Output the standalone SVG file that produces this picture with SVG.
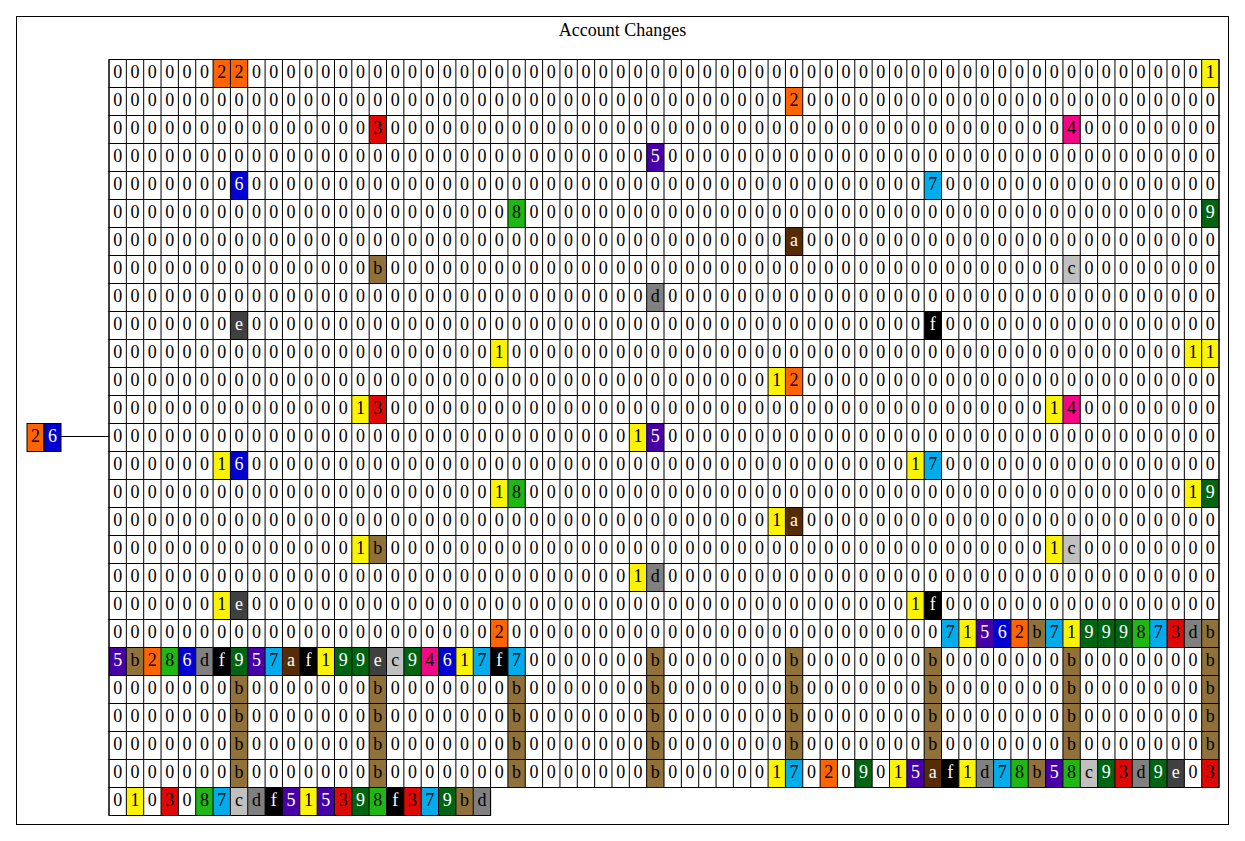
<svg xmlns="http://www.w3.org/2000/svg" width="1245" height="841" viewBox="0 0 1245 841">
<style>
text{font-family:"Liberation Serif","Times New Roman",serif;font-size:18px;fill:#000}
.t{text-anchor:middle}
.w{fill:#fff}
.bg{fill:#fff}
.bd{fill:none;stroke:#000;stroke-width:1}
.dv{stroke:#000;stroke-width:28;stroke-dasharray:1 16.344}
.frame{fill:#fff;stroke:#000;stroke-width:1}
.edge{stroke:#000;stroke-width:1;fill:none}
.k1{fill:#FBF305}.k2{fill:#FF6403}.k3{fill:#DD0907}.k4{fill:#F20884}.k5{fill:#4700A5}.k6{fill:#0000D3}.k7{fill:#02ABEA}.k8{fill:#1FB714}.k9{fill:#006412}.ka{fill:#562C05}.kb{fill:#90713A}.kc{fill:#C0C0C0}.kd{fill:#808080}.ke{fill:#404040}.kf{fill:#000}
</style>
<rect class="frame" x="16.5" y="16.5" width="1212" height="808"/>
<text class="t" x="622.5" y="36">Account Changes</text>

<g id="row-01">
<rect class="bg" x="109" y="59.5" width="1110" height="28"/>
<rect class="k2" x="213.06" y="59.5" width="17.34" height="28"/><rect class="k2" x="230.41" y="59.5" width="17.34" height="28"/><rect class="k1" x="1201.67" y="59.5" width="17.34" height="28"/>
<line class="dv" x1="108.5" y1="73.5" x2="1219.5" y2="73.5"/>
<rect class="bd" x="109" y="59.5" width="1110" height="28"/>
<text class="t" y="78" x="117.67 135.02 152.36 169.7 187.05 204.39 221.74 239.08 256.42 273.77 291.11 308.46 325.8 343.14 360.49 377.83 395.18 412.52 429.86 447.21 464.55 481.9 499.24 516.58 533.93 551.27 568.62 585.96 603.3 620.65 637.99 655.34 672.68 690.02 707.37 724.71 742.06 759.4 776.74 794.09 811.43 828.78 846.12 863.46 880.81 898.15 915.5 932.84 950.18 967.53 984.87 1002.22 1019.56 1036.9 1054.25 1071.59 1088.94 1106.28 1123.62 1140.97 1158.31 1175.66 1193 1210.34">0000002200000000000000000000000000000000000000000000000000000001</text>
</g>

<g id="row-02">
<rect class="bg" x="109" y="87.5" width="1110" height="28"/>
<rect class="k2" x="785.42" y="87.5" width="17.34" height="28"/>
<line class="dv" x1="108.5" y1="101.5" x2="1219.5" y2="101.5"/>
<rect class="bd" x="109" y="87.5" width="1110" height="28"/>
<text class="t" y="106" x="117.67 135.02 152.36 169.7 187.05 204.39 221.74 239.08 256.42 273.77 291.11 308.46 325.8 343.14 360.49 377.83 395.18 412.52 429.86 447.21 464.55 481.9 499.24 516.58 533.93 551.27 568.62 585.96 603.3 620.65 637.99 655.34 672.68 690.02 707.37 724.71 742.06 759.4 776.74 794.09 811.43 828.78 846.12 863.46 880.81 898.15 915.5 932.84 950.18 967.53 984.87 1002.22 1019.56 1036.9 1054.25 1071.59 1088.94 1106.28 1123.62 1140.97 1158.31 1175.66 1193 1210.34">0000000000000000000000000000000000000002000000000000000000000000</text>
</g>

<g id="row-03">
<rect class="bg" x="109" y="115.5" width="1110" height="28"/>
<rect class="k3" x="369.16" y="115.5" width="17.34" height="28"/><rect class="k4" x="1062.92" y="115.5" width="17.34" height="28"/>
<line class="dv" x1="108.5" y1="129.5" x2="1219.5" y2="129.5"/>
<rect class="bd" x="109" y="115.5" width="1110" height="28"/>
<text class="t" y="134" x="117.67 135.02 152.36 169.7 187.05 204.39 221.74 239.08 256.42 273.77 291.11 308.46 325.8 343.14 360.49 377.83 395.18 412.52 429.86 447.21 464.55 481.9 499.24 516.58 533.93 551.27 568.62 585.96 603.3 620.65 637.99 655.34 672.68 690.02 707.37 724.71 742.06 759.4 776.74 794.09 811.43 828.78 846.12 863.46 880.81 898.15 915.5 932.84 950.18 967.53 984.87 1002.22 1019.56 1036.9 1054.25 1071.59 1088.94 1106.28 1123.62 1140.97 1158.31 1175.66 1193 1210.34">0000000000000003000000000000000000000000000000000000000400000000</text>
</g>

<g id="row-04">
<rect class="bg" x="109" y="143.5" width="1110" height="28"/>
<rect class="k5" x="646.66" y="143.5" width="17.34" height="28"/>
<line class="dv" x1="108.5" y1="157.5" x2="1219.5" y2="157.5"/>
<rect class="bd" x="109" y="143.5" width="1110" height="28"/>
<text class="t" y="162" x="117.67 135.02 152.36 169.7 187.05 204.39 221.74 239.08 256.42 273.77 291.11 308.46 325.8 343.14 360.49 377.83 395.18 412.52 429.86 447.21 464.55 481.9 499.24 516.58 533.93 551.27 568.62 585.96 603.3 620.65 637.99 655.34 672.68 690.02 707.37 724.71 742.06 759.4 776.74 794.09 811.43 828.78 846.12 863.46 880.81 898.15 915.5 932.84 950.18 967.53 984.87 1002.22 1019.56 1036.9 1054.25 1071.59 1088.94 1106.28 1123.62 1140.97 1158.31 1175.66 1193 1210.34">0000000000000000000000000000000<tspan class="w">5</tspan>00000000000000000000000000000000</text>
</g>

<g id="row-05">
<rect class="bg" x="109" y="171.5" width="1110" height="28"/>
<rect class="k6" x="230.41" y="171.5" width="17.34" height="28"/><rect class="k7" x="924.17" y="171.5" width="17.34" height="28"/>
<line class="dv" x1="108.5" y1="185.5" x2="1219.5" y2="185.5"/>
<rect class="bd" x="109" y="171.5" width="1110" height="28"/>
<text class="t" y="190" x="117.67 135.02 152.36 169.7 187.05 204.39 221.74 239.08 256.42 273.77 291.11 308.46 325.8 343.14 360.49 377.83 395.18 412.52 429.86 447.21 464.55 481.9 499.24 516.58 533.93 551.27 568.62 585.96 603.3 620.65 637.99 655.34 672.68 690.02 707.37 724.71 742.06 759.4 776.74 794.09 811.43 828.78 846.12 863.46 880.81 898.15 915.5 932.84 950.18 967.53 984.87 1002.22 1019.56 1036.9 1054.25 1071.59 1088.94 1106.28 1123.62 1140.97 1158.31 1175.66 1193 1210.34">0000000<tspan class="w">6</tspan><!---->00000000<!---->00000000<!---->00000000<!---->00000000<!---->00000007<!---->00000000<!---->00000000</text>
</g>

<g id="row-06">
<rect class="bg" x="109" y="199.5" width="1110" height="28"/>
<rect class="k8" x="507.91" y="199.5" width="17.34" height="28"/><rect class="k9" x="1201.67" y="199.5" width="17.34" height="28"/>
<line class="dv" x1="108.5" y1="213.5" x2="1219.5" y2="213.5"/>
<rect class="bd" x="109" y="199.5" width="1110" height="28"/>
<text class="t" y="218" x="117.67 135.02 152.36 169.7 187.05 204.39 221.74 239.08 256.42 273.77 291.11 308.46 325.8 343.14 360.49 377.83 395.18 412.52 429.86 447.21 464.55 481.9 499.24 516.58 533.93 551.27 568.62 585.96 603.3 620.65 637.99 655.34 672.68 690.02 707.37 724.71 742.06 759.4 776.74 794.09 811.43 828.78 846.12 863.46 880.81 898.15 915.5 932.84 950.18 967.53 984.87 1002.22 1019.56 1036.9 1054.25 1071.59 1088.94 1106.28 1123.62 1140.97 1158.31 1175.66 1193 1210.34">00000000<!---->00000000<!---->00000008<!---->00000000<!---->00000000<!---->00000000<!---->00000000<!---->0000000<tspan class="w">9</tspan></text>
</g>

<g id="row-07">
<rect class="bg" x="109" y="227.5" width="1110" height="28"/>
<rect class="ka" x="785.42" y="227.5" width="17.34" height="28"/>
<line class="dv" x1="108.5" y1="241.5" x2="1219.5" y2="241.5"/>
<rect class="bd" x="109" y="227.5" width="1110" height="28"/>
<text class="t" y="246" x="117.67 135.02 152.36 169.7 187.05 204.39 221.74 239.08 256.42 273.77 291.11 308.46 325.8 343.14 360.49 377.83 395.18 412.52 429.86 447.21 464.55 481.9 499.24 516.58 533.93 551.27 568.62 585.96 603.3 620.65 637.99 655.34 672.68 690.02 707.37 724.71 742.06 759.4 776.74 794.09 811.43 828.78 846.12 863.46 880.81 898.15 915.5 932.84 950.18 967.53 984.87 1002.22 1019.56 1036.9 1054.25 1071.59 1088.94 1106.28 1123.62 1140.97 1158.31 1175.66 1193 1210.34">000000000000000000000000000000000000000<tspan class="w">a</tspan>000000000000000000000000</text>
</g>

<g id="row-08">
<rect class="bg" x="109" y="255.5" width="1110" height="28"/>
<rect class="kb" x="369.16" y="255.5" width="17.34" height="28"/><rect class="kc" x="1062.92" y="255.5" width="17.34" height="28"/>
<line class="dv" x1="108.5" y1="269.5" x2="1219.5" y2="269.5"/>
<rect class="bd" x="109" y="255.5" width="1110" height="28"/>
<text class="t" y="274" x="117.67 135.02 152.36 169.7 187.05 204.39 221.74 239.08 256.42 273.77 291.11 308.46 325.8 343.14 360.49 377.83 395.18 412.52 429.86 447.21 464.55 481.9 499.24 516.58 533.93 551.27 568.62 585.96 603.3 620.65 637.99 655.34 672.68 690.02 707.37 724.71 742.06 759.4 776.74 794.09 811.43 828.78 846.12 863.46 880.81 898.15 915.5 932.84 950.18 967.53 984.87 1002.22 1019.56 1036.9 1054.25 1071.59 1088.94 1106.28 1123.62 1140.97 1158.31 1175.66 1193 1210.34">000000000000000b000000000000000000000000000000000000000c00000000</text>
</g>

<g id="row-09">
<rect class="bg" x="109" y="283.5" width="1110" height="28"/>
<rect class="kd" x="646.66" y="283.5" width="17.34" height="28"/>
<line class="dv" x1="108.5" y1="297.5" x2="1219.5" y2="297.5"/>
<rect class="bd" x="109" y="283.5" width="1110" height="28"/>
<text class="t" y="302" x="117.67 135.02 152.36 169.7 187.05 204.39 221.74 239.08 256.42 273.77 291.11 308.46 325.8 343.14 360.49 377.83 395.18 412.52 429.86 447.21 464.55 481.9 499.24 516.58 533.93 551.27 568.62 585.96 603.3 620.65 637.99 655.34 672.68 690.02 707.37 724.71 742.06 759.4 776.74 794.09 811.43 828.78 846.12 863.46 880.81 898.15 915.5 932.84 950.18 967.53 984.87 1002.22 1019.56 1036.9 1054.25 1071.59 1088.94 1106.28 1123.62 1140.97 1158.31 1175.66 1193 1210.34">0000000000000000000000000000000d00000000000000000000000000000000</text>
</g>

<g id="row-10">
<rect class="bg" x="109" y="311.5" width="1110" height="28"/>
<rect class="ke" x="230.41" y="311.5" width="17.34" height="28"/><rect class="kf" x="924.17" y="311.5" width="17.34" height="28"/>
<line class="dv" x1="108.5" y1="325.5" x2="1219.5" y2="325.5"/>
<rect class="bd" x="109" y="311.5" width="1110" height="28"/>
<text class="t" y="330" x="117.67 135.02 152.36 169.7 187.05 204.39 221.74 239.08 256.42 273.77 291.11 308.46 325.8 343.14 360.49 377.83 395.18 412.52 429.86 447.21 464.55 481.9 499.24 516.58 533.93 551.27 568.62 585.96 603.3 620.65 637.99 655.34 672.68 690.02 707.37 724.71 742.06 759.4 776.74 794.09 811.43 828.78 846.12 863.46 880.81 898.15 915.5 932.84 950.18 967.53 984.87 1002.22 1019.56 1036.9 1054.25 1071.59 1088.94 1106.28 1123.62 1140.97 1158.31 1175.66 1193 1210.34">0000000<tspan class="w">e</tspan>000000000000000000000000000000000000000<tspan class="w">f</tspan>0000000000000000</text>
</g>

<g id="row-11">
<rect class="bg" x="109" y="339.5" width="1110" height="28"/>
<rect class="k1" x="490.57" y="339.5" width="17.34" height="28"/><rect class="k1" x="1184.33" y="339.5" width="17.34" height="28"/><rect class="k1" x="1201.67" y="339.5" width="17.34" height="28"/>
<line class="dv" x1="108.5" y1="353.5" x2="1219.5" y2="353.5"/>
<rect class="bd" x="109" y="339.5" width="1110" height="28"/>
<text class="t" y="358" x="117.67 135.02 152.36 169.7 187.05 204.39 221.74 239.08 256.42 273.77 291.11 308.46 325.8 343.14 360.49 377.83 395.18 412.52 429.86 447.21 464.55 481.9 499.24 516.58 533.93 551.27 568.62 585.96 603.3 620.65 637.99 655.34 672.68 690.02 707.37 724.71 742.06 759.4 776.74 794.09 811.43 828.78 846.12 863.46 880.81 898.15 915.5 932.84 950.18 967.53 984.87 1002.22 1019.56 1036.9 1054.25 1071.59 1088.94 1106.28 1123.62 1140.97 1158.31 1175.66 1193 1210.34">0000000000000000000000100000000000000000000000000000000000000011</text>
</g>

<g id="row-12">
<rect class="bg" x="109" y="367.5" width="1110" height="28"/>
<rect class="k1" x="768.07" y="367.5" width="17.34" height="28"/><rect class="k2" x="785.42" y="367.5" width="17.34" height="28"/>
<line class="dv" x1="108.5" y1="381.5" x2="1219.5" y2="381.5"/>
<rect class="bd" x="109" y="367.5" width="1110" height="28"/>
<text class="t" y="386" x="117.67 135.02 152.36 169.7 187.05 204.39 221.74 239.08 256.42 273.77 291.11 308.46 325.8 343.14 360.49 377.83 395.18 412.52 429.86 447.21 464.55 481.9 499.24 516.58 533.93 551.27 568.62 585.96 603.3 620.65 637.99 655.34 672.68 690.02 707.37 724.71 742.06 759.4 776.74 794.09 811.43 828.78 846.12 863.46 880.81 898.15 915.5 932.84 950.18 967.53 984.87 1002.22 1019.56 1036.9 1054.25 1071.59 1088.94 1106.28 1123.62 1140.97 1158.31 1175.66 1193 1210.34">0000000000000000000000000000000000000012000000000000000000000000</text>
</g>

<g id="row-13">
<rect class="bg" x="109" y="395.5" width="1110" height="28"/>
<rect class="k1" x="351.82" y="395.5" width="17.34" height="28"/><rect class="k3" x="369.16" y="395.5" width="17.34" height="28"/><rect class="k1" x="1045.58" y="395.5" width="17.34" height="28"/><rect class="k4" x="1062.92" y="395.5" width="17.34" height="28"/>
<line class="dv" x1="108.5" y1="409.5" x2="1219.5" y2="409.5"/>
<rect class="bd" x="109" y="395.5" width="1110" height="28"/>
<text class="t" y="414" x="117.67 135.02 152.36 169.7 187.05 204.39 221.74 239.08 256.42 273.77 291.11 308.46 325.8 343.14 360.49 377.83 395.18 412.52 429.86 447.21 464.55 481.9 499.24 516.58 533.93 551.27 568.62 585.96 603.3 620.65 637.99 655.34 672.68 690.02 707.37 724.71 742.06 759.4 776.74 794.09 811.43 828.78 846.12 863.46 880.81 898.15 915.5 932.84 950.18 967.53 984.87 1002.22 1019.56 1036.9 1054.25 1071.59 1088.94 1106.28 1123.62 1140.97 1158.31 1175.66 1193 1210.34">0000000000000013000000000000000000000000000000000000001400000000</text>
</g>

<g id="row-14">
<rect class="bg" x="109" y="423.5" width="1110" height="28"/>
<rect class="k1" x="629.32" y="423.5" width="17.34" height="28"/><rect class="k5" x="646.66" y="423.5" width="17.34" height="28"/>
<line class="dv" x1="108.5" y1="437.5" x2="1219.5" y2="437.5"/>
<rect class="bd" x="109" y="423.5" width="1110" height="28"/>
<text class="t" y="442" x="117.67 135.02 152.36 169.7 187.05 204.39 221.74 239.08 256.42 273.77 291.11 308.46 325.8 343.14 360.49 377.83 395.18 412.52 429.86 447.21 464.55 481.9 499.24 516.58 533.93 551.27 568.62 585.96 603.3 620.65 637.99 655.34 672.68 690.02 707.37 724.71 742.06 759.4 776.74 794.09 811.43 828.78 846.12 863.46 880.81 898.15 915.5 932.84 950.18 967.53 984.87 1002.22 1019.56 1036.9 1054.25 1071.59 1088.94 1106.28 1123.62 1140.97 1158.31 1175.66 1193 1210.34">0000000000000000000000000000001<tspan class="w">5</tspan>00000000000000000000000000000000</text>
</g>

<g id="row-15">
<rect class="bg" x="109" y="451.5" width="1110" height="28"/>
<rect class="k1" x="213.06" y="451.5" width="17.34" height="28"/><rect class="k6" x="230.41" y="451.5" width="17.34" height="28"/><rect class="k1" x="906.82" y="451.5" width="17.34" height="28"/><rect class="k7" x="924.17" y="451.5" width="17.34" height="28"/>
<line class="dv" x1="108.5" y1="465.5" x2="1219.5" y2="465.5"/>
<rect class="bd" x="109" y="451.5" width="1110" height="28"/>
<text class="t" y="470" x="117.67 135.02 152.36 169.7 187.05 204.39 221.74 239.08 256.42 273.77 291.11 308.46 325.8 343.14 360.49 377.83 395.18 412.52 429.86 447.21 464.55 481.9 499.24 516.58 533.93 551.27 568.62 585.96 603.3 620.65 637.99 655.34 672.68 690.02 707.37 724.71 742.06 759.4 776.74 794.09 811.43 828.78 846.12 863.46 880.81 898.15 915.5 932.84 950.18 967.53 984.87 1002.22 1019.56 1036.9 1054.25 1071.59 1088.94 1106.28 1123.62 1140.97 1158.31 1175.66 1193 1210.34">0000001<tspan class="w">6</tspan><!---->00000000<!---->00000000<!---->00000000<!---->00000000<!---->00000017<!---->00000000<!---->00000000</text>
</g>

<g id="row-16">
<rect class="bg" x="109" y="479.5" width="1110" height="28"/>
<rect class="k1" x="490.57" y="479.5" width="17.34" height="28"/><rect class="k8" x="507.91" y="479.5" width="17.34" height="28"/><rect class="k1" x="1184.33" y="479.5" width="17.34" height="28"/><rect class="k9" x="1201.67" y="479.5" width="17.34" height="28"/>
<line class="dv" x1="108.5" y1="493.5" x2="1219.5" y2="493.5"/>
<rect class="bd" x="109" y="479.5" width="1110" height="28"/>
<text class="t" y="498" x="117.67 135.02 152.36 169.7 187.05 204.39 221.74 239.08 256.42 273.77 291.11 308.46 325.8 343.14 360.49 377.83 395.18 412.52 429.86 447.21 464.55 481.9 499.24 516.58 533.93 551.27 568.62 585.96 603.3 620.65 637.99 655.34 672.68 690.02 707.37 724.71 742.06 759.4 776.74 794.09 811.43 828.78 846.12 863.46 880.81 898.15 915.5 932.84 950.18 967.53 984.87 1002.22 1019.56 1036.9 1054.25 1071.59 1088.94 1106.28 1123.62 1140.97 1158.31 1175.66 1193 1210.34">000000000000000000000018000000000000000000000000000000000000001<tspan class="w">9</tspan></text>
</g>

<g id="row-17">
<rect class="bg" x="109" y="507.5" width="1110" height="28"/>
<rect class="k1" x="768.07" y="507.5" width="17.34" height="28"/><rect class="ka" x="785.42" y="507.5" width="17.34" height="28"/>
<line class="dv" x1="108.5" y1="521.5" x2="1219.5" y2="521.5"/>
<rect class="bd" x="109" y="507.5" width="1110" height="28"/>
<text class="t" y="526" x="117.67 135.02 152.36 169.7 187.05 204.39 221.74 239.08 256.42 273.77 291.11 308.46 325.8 343.14 360.49 377.83 395.18 412.52 429.86 447.21 464.55 481.9 499.24 516.58 533.93 551.27 568.62 585.96 603.3 620.65 637.99 655.34 672.68 690.02 707.37 724.71 742.06 759.4 776.74 794.09 811.43 828.78 846.12 863.46 880.81 898.15 915.5 932.84 950.18 967.53 984.87 1002.22 1019.56 1036.9 1054.25 1071.59 1088.94 1106.28 1123.62 1140.97 1158.31 1175.66 1193 1210.34">000000000000000000000000000000000000001<tspan class="w">a</tspan>000000000000000000000000</text>
</g>

<g id="row-18">
<rect class="bg" x="109" y="535.5" width="1110" height="28"/>
<rect class="k1" x="351.82" y="535.5" width="17.34" height="28"/><rect class="kb" x="369.16" y="535.5" width="17.34" height="28"/><rect class="k1" x="1045.58" y="535.5" width="17.34" height="28"/><rect class="kc" x="1062.92" y="535.5" width="17.34" height="28"/>
<line class="dv" x1="108.5" y1="549.5" x2="1219.5" y2="549.5"/>
<rect class="bd" x="109" y="535.5" width="1110" height="28"/>
<text class="t" y="554" x="117.67 135.02 152.36 169.7 187.05 204.39 221.74 239.08 256.42 273.77 291.11 308.46 325.8 343.14 360.49 377.83 395.18 412.52 429.86 447.21 464.55 481.9 499.24 516.58 533.93 551.27 568.62 585.96 603.3 620.65 637.99 655.34 672.68 690.02 707.37 724.71 742.06 759.4 776.74 794.09 811.43 828.78 846.12 863.46 880.81 898.15 915.5 932.84 950.18 967.53 984.87 1002.22 1019.56 1036.9 1054.25 1071.59 1088.94 1106.28 1123.62 1140.97 1158.31 1175.66 1193 1210.34">000000000000001b000000000000000000000000000000000000001c00000000</text>
</g>

<g id="row-19">
<rect class="bg" x="109" y="563.5" width="1110" height="28"/>
<rect class="k1" x="629.32" y="563.5" width="17.34" height="28"/><rect class="kd" x="646.66" y="563.5" width="17.34" height="28"/>
<line class="dv" x1="108.5" y1="577.5" x2="1219.5" y2="577.5"/>
<rect class="bd" x="109" y="563.5" width="1110" height="28"/>
<text class="t" y="582" x="117.67 135.02 152.36 169.7 187.05 204.39 221.74 239.08 256.42 273.77 291.11 308.46 325.8 343.14 360.49 377.83 395.18 412.52 429.86 447.21 464.55 481.9 499.24 516.58 533.93 551.27 568.62 585.96 603.3 620.65 637.99 655.34 672.68 690.02 707.37 724.71 742.06 759.4 776.74 794.09 811.43 828.78 846.12 863.46 880.81 898.15 915.5 932.84 950.18 967.53 984.87 1002.22 1019.56 1036.9 1054.25 1071.59 1088.94 1106.28 1123.62 1140.97 1158.31 1175.66 1193 1210.34">0000000000000000000000000000001d00000000000000000000000000000000</text>
</g>

<g id="row-20">
<rect class="bg" x="109" y="591.5" width="1110" height="28"/>
<rect class="k1" x="213.06" y="591.5" width="17.34" height="28"/><rect class="ke" x="230.41" y="591.5" width="17.34" height="28"/><rect class="k1" x="906.82" y="591.5" width="17.34" height="28"/><rect class="kf" x="924.17" y="591.5" width="17.34" height="28"/>
<line class="dv" x1="108.5" y1="605.5" x2="1219.5" y2="605.5"/>
<rect class="bd" x="109" y="591.5" width="1110" height="28"/>
<text class="t" y="610" x="117.67 135.02 152.36 169.7 187.05 204.39 221.74 239.08 256.42 273.77 291.11 308.46 325.8 343.14 360.49 377.83 395.18 412.52 429.86 447.21 464.55 481.9 499.24 516.58 533.93 551.27 568.62 585.96 603.3 620.65 637.99 655.34 672.68 690.02 707.37 724.71 742.06 759.4 776.74 794.09 811.43 828.78 846.12 863.46 880.81 898.15 915.5 932.84 950.18 967.53 984.87 1002.22 1019.56 1036.9 1054.25 1071.59 1088.94 1106.28 1123.62 1140.97 1158.31 1175.66 1193 1210.34">0000001<tspan class="w">e</tspan><!---->00000000<!---->00000000<!---->00000000<!---->00000000<!---->0000001<tspan class="w">f</tspan><!---->00000000<!---->00000000</text>
</g>

<g id="row-21">
<rect class="bg" x="109" y="619.5" width="1110" height="28"/>
<rect class="k2" x="490.57" y="619.5" width="17.34" height="28"/>
<rect class="k7" x="941.51" y="619.5" width="17.34" height="28"/><rect class="k1" x="958.86" y="619.5" width="17.34" height="28"/><rect class="k5" x="976.2" y="619.5" width="17.34" height="28"/><rect class="k6" x="993.54" y="619.5" width="17.34" height="28"/><rect class="k2" x="1010.89" y="619.5" width="17.34" height="28"/><rect class="kb" x="1028.23" y="619.5" width="17.34" height="28"/><rect class="k7" x="1045.58" y="619.5" width="17.34" height="28"/><rect class="k1" x="1062.92" y="619.5" width="17.34" height="28"/><rect class="k9" x="1080.26" y="619.5" width="17.34" height="28"/><rect class="k9" x="1097.61" y="619.5" width="17.34" height="28"/><rect class="k9" x="1114.95" y="619.5" width="17.34" height="28"/><rect class="k8" x="1132.3" y="619.5" width="17.34" height="28"/><rect class="k7" x="1149.64" y="619.5" width="17.34" height="28"/><rect class="k3" x="1166.98" y="619.5" width="17.34" height="28"/><rect class="kd" x="1184.33" y="619.5" width="17.34" height="28"/><rect class="kb" x="1201.67" y="619.5" width="17.34" height="28"/>
<line class="dv" x1="108.5" y1="633.5" x2="1219.5" y2="633.5"/>
<rect class="bd" x="109" y="619.5" width="1110" height="28"/>
<text class="t" y="638" x="117.67 135.02 152.36 169.7 187.05 204.39 221.74 239.08 256.42 273.77 291.11 308.46 325.8 343.14 360.49 377.83 395.18 412.52 429.86 447.21 464.55 481.9 499.24 516.58 533.93 551.27 568.62 585.96 603.3 620.65 637.99 655.34 672.68 690.02 707.37 724.71 742.06 759.4 776.74 794.09 811.43 828.78 846.12 863.46 880.81 898.15 915.5 932.84 950.18 967.53 984.87 1002.22 1019.56 1036.9 1054.25 1071.59 1088.94 1106.28 1123.62 1140.97 1158.31 1175.66 1193 1210.34">00000000<!---->00000000<!---->00000020<!---->00000000<!---->00000000<!---->00000000<!---->71<tspan class="w">5</tspan><tspan class="w">6</tspan>2b71<!----><tspan class="w">9</tspan><tspan class="w">9</tspan><tspan class="w">9</tspan>873db</text>
</g>

<g id="row-22">
<rect class="bg" x="109" y="647.5" width="1110" height="28"/>
<rect class="k5" x="109" y="647.5" width="17.34" height="28"/><rect class="kb" x="126.34" y="647.5" width="17.34" height="28"/><rect class="k2" x="143.69" y="647.5" width="17.34" height="28"/><rect class="k8" x="161.03" y="647.5" width="17.34" height="28"/><rect class="k6" x="178.38" y="647.5" width="17.34" height="28"/><rect class="kd" x="195.72" y="647.5" width="17.34" height="28"/><rect class="kf" x="213.06" y="647.5" width="17.34" height="28"/><rect class="k9" x="230.41" y="647.5" width="17.34" height="28"/><rect class="k5" x="247.75" y="647.5" width="17.34" height="28"/><rect class="k7" x="265.1" y="647.5" width="17.34" height="28"/><rect class="ka" x="282.44" y="647.5" width="17.34" height="28"/><rect class="kf" x="299.78" y="647.5" width="17.34" height="28"/><rect class="k1" x="317.13" y="647.5" width="17.34" height="28"/><rect class="k9" x="334.47" y="647.5" width="17.34" height="28"/><rect class="k9" x="351.82" y="647.5" width="17.34" height="28"/><rect class="ke" x="369.16" y="647.5" width="17.34" height="28"/><rect class="kc" x="386.5" y="647.5" width="17.34" height="28"/><rect class="k9" x="403.85" y="647.5" width="17.34" height="28"/><rect class="k4" x="421.19" y="647.5" width="17.34" height="28"/><rect class="k6" x="438.54" y="647.5" width="17.34" height="28"/><rect class="k1" x="455.88" y="647.5" width="17.34" height="28"/><rect class="k7" x="473.22" y="647.5" width="17.34" height="28"/><rect class="kf" x="490.57" y="647.5" width="17.34" height="28"/><rect class="k7" x="507.91" y="647.5" width="17.34" height="28"/>
<rect class="kb" x="646.66" y="647.5" width="17.34" height="28"/><rect class="kb" x="785.42" y="647.5" width="17.34" height="28"/><rect class="kb" x="924.17" y="647.5" width="17.34" height="28"/><rect class="kb" x="1062.92" y="647.5" width="17.34" height="28"/><rect class="kb" x="1201.67" y="647.5" width="17.34" height="28"/>
<line class="dv" x1="108.5" y1="661.5" x2="1219.5" y2="661.5"/>
<rect class="bd" x="109" y="647.5" width="1110" height="28"/>
<text class="t" y="666" x="117.67 135.02 152.36 169.7 187.05 204.39 221.74 239.08 256.42 273.77 291.11 308.46 325.8 343.14 360.49 377.83 395.18 412.52 429.86 447.21 464.55 481.9 499.24 516.58 533.93 551.27 568.62 585.96 603.3 620.65 637.99 655.34 672.68 690.02 707.37 724.71 742.06 759.4 776.74 794.09 811.43 828.78 846.12 863.46 880.81 898.15 915.5 932.84 950.18 967.53 984.87 1002.22 1019.56 1036.9 1054.25 1071.59 1088.94 1106.28 1123.62 1140.97 1158.31 1175.66 1193 1210.34"><tspan class="w">5</tspan>b28<tspan class="w">6</tspan>d<tspan class="w">f</tspan><tspan class="w">9</tspan><tspan class="w">5</tspan>7<tspan class="w">a</tspan><tspan class="w">f</tspan>1<tspan class="w">9</tspan><tspan class="w">9</tspan><tspan class="w">e</tspan>c<tspan class="w">9</tspan>4<tspan class="w">6</tspan>17<tspan class="w">f</tspan>70000000b0000000b0000000b0000000b0000000b</text>
</g>

<g id="row-23">
<rect class="bg" x="109" y="675.5" width="1110" height="28"/>
<rect class="kb" x="230.41" y="675.5" width="17.34" height="28"/><rect class="kb" x="369.16" y="675.5" width="17.34" height="28"/><rect class="kb" x="507.91" y="675.5" width="17.34" height="28"/><rect class="kb" x="646.66" y="675.5" width="17.34" height="28"/><rect class="kb" x="785.42" y="675.5" width="17.34" height="28"/><rect class="kb" x="924.17" y="675.5" width="17.34" height="28"/><rect class="kb" x="1062.92" y="675.5" width="17.34" height="28"/><rect class="kb" x="1201.67" y="675.5" width="17.34" height="28"/>
<line class="dv" x1="108.5" y1="689.5" x2="1219.5" y2="689.5"/>
<rect class="bd" x="109" y="675.5" width="1110" height="28"/>
<text class="t" y="694" x="117.67 135.02 152.36 169.7 187.05 204.39 221.74 239.08 256.42 273.77 291.11 308.46 325.8 343.14 360.49 377.83 395.18 412.52 429.86 447.21 464.55 481.9 499.24 516.58 533.93 551.27 568.62 585.96 603.3 620.65 637.99 655.34 672.68 690.02 707.37 724.71 742.06 759.4 776.74 794.09 811.43 828.78 846.12 863.46 880.81 898.15 915.5 932.84 950.18 967.53 984.87 1002.22 1019.56 1036.9 1054.25 1071.59 1088.94 1106.28 1123.62 1140.97 1158.31 1175.66 1193 1210.34">0000000b0000000b0000000b0000000b0000000b0000000b0000000b0000000b</text>
</g>

<g id="row-24">
<rect class="bg" x="109" y="703.5" width="1110" height="28"/>
<rect class="kb" x="230.41" y="703.5" width="17.34" height="28"/><rect class="kb" x="369.16" y="703.5" width="17.34" height="28"/><rect class="kb" x="507.91" y="703.5" width="17.34" height="28"/><rect class="kb" x="646.66" y="703.5" width="17.34" height="28"/><rect class="kb" x="785.42" y="703.5" width="17.34" height="28"/><rect class="kb" x="924.17" y="703.5" width="17.34" height="28"/><rect class="kb" x="1062.92" y="703.5" width="17.34" height="28"/><rect class="kb" x="1201.67" y="703.5" width="17.34" height="28"/>
<line class="dv" x1="108.5" y1="717.5" x2="1219.5" y2="717.5"/>
<rect class="bd" x="109" y="703.5" width="1110" height="28"/>
<text class="t" y="722" x="117.67 135.02 152.36 169.7 187.05 204.39 221.74 239.08 256.42 273.77 291.11 308.46 325.8 343.14 360.49 377.83 395.18 412.52 429.86 447.21 464.55 481.9 499.24 516.58 533.93 551.27 568.62 585.96 603.3 620.65 637.99 655.34 672.68 690.02 707.37 724.71 742.06 759.4 776.74 794.09 811.43 828.78 846.12 863.46 880.81 898.15 915.5 932.84 950.18 967.53 984.87 1002.22 1019.56 1036.9 1054.25 1071.59 1088.94 1106.28 1123.62 1140.97 1158.31 1175.66 1193 1210.34">0000000b0000000b0000000b0000000b0000000b0000000b0000000b0000000b</text>
</g>

<g id="row-25">
<rect class="bg" x="109" y="731.5" width="1110" height="28"/>
<rect class="kb" x="230.41" y="731.5" width="17.34" height="28"/><rect class="kb" x="369.16" y="731.5" width="17.34" height="28"/><rect class="kb" x="507.91" y="731.5" width="17.34" height="28"/><rect class="kb" x="646.66" y="731.5" width="17.34" height="28"/><rect class="kb" x="785.42" y="731.5" width="17.34" height="28"/><rect class="kb" x="924.17" y="731.5" width="17.34" height="28"/><rect class="kb" x="1062.92" y="731.5" width="17.34" height="28"/><rect class="kb" x="1201.67" y="731.5" width="17.34" height="28"/>
<line class="dv" x1="108.5" y1="745.5" x2="1219.5" y2="745.5"/>
<rect class="bd" x="109" y="731.5" width="1110" height="28"/>
<text class="t" y="750" x="117.67 135.02 152.36 169.7 187.05 204.39 221.74 239.08 256.42 273.77 291.11 308.46 325.8 343.14 360.49 377.83 395.18 412.52 429.86 447.21 464.55 481.9 499.24 516.58 533.93 551.27 568.62 585.96 603.3 620.65 637.99 655.34 672.68 690.02 707.37 724.71 742.06 759.4 776.74 794.09 811.43 828.78 846.12 863.46 880.81 898.15 915.5 932.84 950.18 967.53 984.87 1002.22 1019.56 1036.9 1054.25 1071.59 1088.94 1106.28 1123.62 1140.97 1158.31 1175.66 1193 1210.34">0000000b0000000b0000000b0000000b0000000b0000000b0000000b0000000b</text>
</g>

<g id="row-26">
<rect class="bg" x="109" y="759.5" width="1110" height="28"/>
<rect class="kb" x="230.41" y="759.5" width="17.34" height="28"/><rect class="kb" x="369.16" y="759.5" width="17.34" height="28"/><rect class="kb" x="507.91" y="759.5" width="17.34" height="28"/><rect class="kb" x="646.66" y="759.5" width="17.34" height="28"/>
<rect class="k1" x="768.07" y="759.5" width="17.34" height="28"/><rect class="k7" x="785.42" y="759.5" width="17.34" height="28"/><rect class="k2" x="820.1" y="759.5" width="17.34" height="28"/><rect class="k9" x="854.79" y="759.5" width="17.34" height="28"/><rect class="k1" x="889.48" y="759.5" width="17.34" height="28"/><rect class="k5" x="906.82" y="759.5" width="17.34" height="28"/><rect class="ka" x="924.17" y="759.5" width="17.34" height="28"/><rect class="kf" x="941.51" y="759.5" width="17.34" height="28"/><rect class="k1" x="958.86" y="759.5" width="17.34" height="28"/><rect class="kd" x="976.2" y="759.5" width="17.34" height="28"/><rect class="k7" x="993.54" y="759.5" width="17.34" height="28"/><rect class="k8" x="1010.89" y="759.5" width="17.34" height="28"/><rect class="kb" x="1028.23" y="759.5" width="17.34" height="28"/><rect class="k5" x="1045.58" y="759.5" width="17.34" height="28"/><rect class="k8" x="1062.92" y="759.5" width="17.34" height="28"/><rect class="kc" x="1080.26" y="759.5" width="17.34" height="28"/><rect class="k9" x="1097.61" y="759.5" width="17.34" height="28"/><rect class="k3" x="1114.95" y="759.5" width="17.34" height="28"/><rect class="kd" x="1132.3" y="759.5" width="17.34" height="28"/><rect class="k9" x="1149.64" y="759.5" width="17.34" height="28"/><rect class="ke" x="1166.98" y="759.5" width="17.34" height="28"/><rect class="k3" x="1201.67" y="759.5" width="17.34" height="28"/>
<line class="dv" x1="108.5" y1="773.5" x2="1219.5" y2="773.5"/>
<rect class="bd" x="109" y="759.5" width="1110" height="28"/>
<text class="t" y="778" x="117.67 135.02 152.36 169.7 187.05 204.39 221.74 239.08 256.42 273.77 291.11 308.46 325.8 343.14 360.49 377.83 395.18 412.52 429.86 447.21 464.55 481.9 499.24 516.58 533.93 551.27 568.62 585.96 603.3 620.65 637.99 655.34 672.68 690.02 707.37 724.71 742.06 759.4 776.74 794.09 811.43 828.78 846.12 863.46 880.81 898.15 915.5 932.84 950.18 967.53 984.87 1002.22 1019.56 1036.9 1054.25 1071.59 1088.94 1106.28 1123.62 1140.97 1158.31 1175.66 1193 1210.34">0000000b0000000b0000000b0000000b00000017020<tspan class="w">9</tspan>01<tspan class="w">5</tspan><tspan class="w">a</tspan><tspan class="w">f</tspan>1d78b<tspan class="w">5</tspan>8c<tspan class="w">9</tspan>3d<tspan class="w">9</tspan><tspan class="w">e</tspan>03</text>
</g>

<g id="row-27">
<rect class="bg" x="109" y="787.5" width="381.57" height="28"/>
<rect class="k1" x="126.34" y="787.5" width="17.34" height="28"/><rect class="k3" x="161.03" y="787.5" width="17.34" height="28"/><rect class="k8" x="195.72" y="787.5" width="17.34" height="28"/><rect class="k7" x="213.06" y="787.5" width="17.34" height="28"/><rect class="kc" x="230.41" y="787.5" width="17.34" height="28"/><rect class="kd" x="247.75" y="787.5" width="17.34" height="28"/><rect class="kf" x="265.1" y="787.5" width="17.34" height="28"/><rect class="k5" x="282.44" y="787.5" width="17.34" height="28"/><rect class="k1" x="299.78" y="787.5" width="17.34" height="28"/><rect class="k5" x="317.13" y="787.5" width="17.34" height="28"/><rect class="k3" x="334.47" y="787.5" width="17.34" height="28"/><rect class="k9" x="351.82" y="787.5" width="17.34" height="28"/><rect class="k8" x="369.16" y="787.5" width="17.34" height="28"/><rect class="kf" x="386.5" y="787.5" width="17.34" height="28"/><rect class="k3" x="403.85" y="787.5" width="17.34" height="28"/><rect class="k7" x="421.19" y="787.5" width="17.34" height="28"/><rect class="k9" x="438.54" y="787.5" width="17.34" height="28"/><rect class="kb" x="455.88" y="787.5" width="17.34" height="28"/><rect class="kd" x="473.22" y="787.5" width="17.34" height="28"/>
<line class="dv" x1="108.5" y1="801.5" x2="491.07" y2="801.5"/>
<rect class="bd" x="109" y="787.5" width="381.57" height="28"/>
<text class="t" y="806" x="117.67 135.02 152.36 169.7 187.05 204.39 221.74 239.08 256.42 273.77 291.11 308.46 325.8 343.14 360.49 377.83 395.18 412.52 429.86 447.21 464.55 481.9">0103087cd<tspan class="w">f</tspan><tspan class="w">5</tspan>1<tspan class="w">5</tspan>3<tspan class="w">9</tspan>8<tspan class="w">f</tspan>37<tspan class="w">9</tspan>bd</text>
</g>

<g id="node-26">
<rect class="k2" x="27" y="423.5" width="17" height="28"/>
<rect class="k6" x="44" y="423.5" width="17" height="28"/>
<rect class="bd" x="27" y="423.5" width="17" height="28"/>
<rect class="bd" x="44" y="423.5" width="17" height="28"/>
<text class="t" x="35.5" y="442">2</text>
<text class="t w" x="52.5" y="442">6</text>
</g>

<g id="connectors">
<line class="edge" x1="61" y1="436.5" x2="109" y2="436.5"/>
</g>
</svg>
